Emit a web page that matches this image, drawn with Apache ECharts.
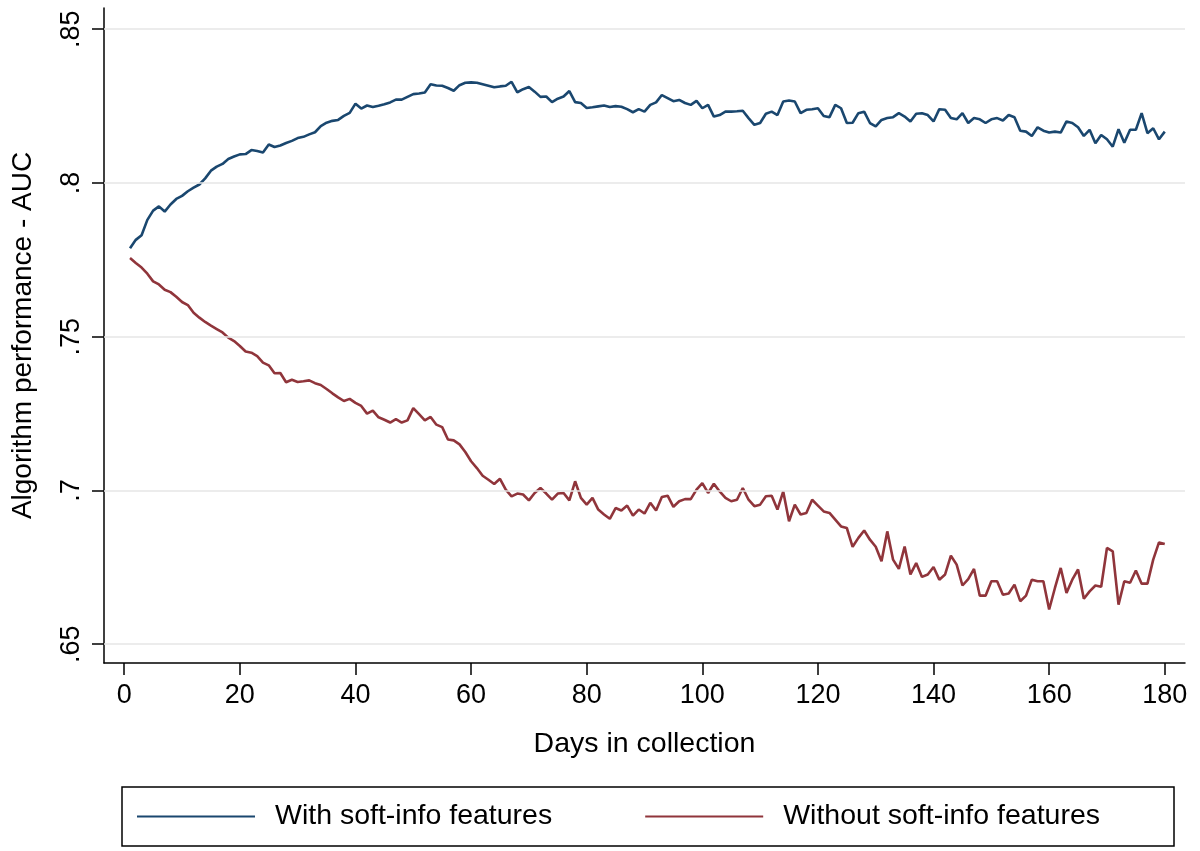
<!DOCTYPE html>
<html>
<head>
<meta charset="utf-8">
<script src="https://cdn.jsdelivr.net/npm/echarts@6/dist/echarts.min.js"></script>
<style>html,body{margin:0;padding:0;background:#fff;}#c{width:1200px;height:851px;}</style>
</head>
<body>
<div id="c"></div>
<script>
// Days 1..180 in collection
var days = [];
for (var d = 1; d <= 180; d++) days.push(d);

var withSoft = [
.7788,.7815,.7830,.7880,.7910,.7924,.7907,.7930,.7948,.7958,
.7973,.7985,.7995,.8015,.8040,.8053,.8062,.8078,.8086,.8093,
.8094,.8107,.8104,.8099,.8125,.8117,.8122,.8130,.8137,.8146,
.8150,.8158,.8165,.8185,.8196,.8202,.8205,.8218,.8228,.8258,
.8242,.8252,.8247,.8251,.8256,.8262,.8271,.8271,.8280,.8289,
.8291,.8294,.8321,.8317,.8316,.8309,.8300,.8318,.8326,.8327,
.8326,.8321,.8316,.8311,.8314,.8316,.8329,.8295,.8305,.8312,
.8297,.8280,.8281,.8263,.8274,.8281,.8299,.8263,.8260,.8244,
.8246,.8249,.8252,.8247,.8250,.8248,.8240,.8230,.8240,.8232,
.8254,.8262,.8286,.8276,.8266,.8270,.8260,.8254,.8267,.8243,
.8254,.8216,.8221,.8232,.8232,.8233,.8235,.8211,.8189,.8195,
.8225,.8232,.8221,.8265,.8268,.8265,.8227,.8238,.8240,.8243,
.8218,.8214,.8254,.8243,.8195,.8196,.8227,.8232,.8195,.8184,
.8205,.8211,.8214,.8227,.8216,.8200,.8225,.8227,.8221,.8200,
.8240,.8238,.8211,.8207,.8227,.8195,.8211,.8207,.8195,.8207,
.8211,.8203,.8221,.8214,.8170,.8167,.8153,.8181,.8170,.8164,
.8167,.8164,.8200,.8195,.8181,.8153,.8173,.8129,.8156,.8142,
.8118,.8175,.8131,.8173,.8173,.8227,.8162,.8178,.8142,.8167
];

var withoutSoft = [
.7756,.7740,.7725,.7705,.7680,.7670,.7653,.7645,.7630,.7613,
.7603,.7578,.7562,.7548,.7536,.7525,.7514,.7497,.7486,.7470,
.7452,.7448,.7437,.7416,.7407,.7381,.7382,.7352,.7360,.7353,
.7355,.7358,.7349,.7343,.7330,.7316,.7303,.7291,.7298,.7285,
.7275,.7250,.7260,.7238,.7230,.7221,.7232,.7221,.7228,.7268,
.7248,.7228,.7239,.7214,.7206,.7166,.7163,.7150,.7125,.7095,
.7073,.7048,.7035,.7021,.7038,.7003,.6981,.6990,.6987,.6968,
.6992,.7008,.6990,.6970,.6990,.6992,.6968,.7030,.6976,.6954,
.6976,.6938,.6922,.6908,.6943,.6935,.6951,.6918,.6938,.6925,
.6960,.6935,.6979,.6983,.6947,.6965,.6972,.6972,.7003,.7024,
.6992,.7022,.6997,.6976,.6965,.6970,.7008,.6970,.6949,.6954,
.6981,.6983,.6938,.6997,.6900,.6954,.6922,.6927,.6970,.6951,
.6932,.6927,.6905,.6883,.6878,.6817,.6846,.6870,.6840,.6817,
.6770,.6867,.6775,.6745,.6818,.6727,.6764,.6719,.6727,.6751,
.6710,.6727,.6788,.6759,.6691,.6712,.6745,.6658,.6658,.6705,
.6705,.6661,.6665,.6694,.6640,.6658,.6710,.6705,.6705,.6613,
.6683,.6748,.6667,.6710,.6743,.6648,.6672,.6691,.6687,.6813,
.6802,.6629,.6705,.6700,.6740,.6697,.6697,.6775,.6831,.6826
];

var xTicks = [0, 20, 40, 60, 80, 100, 120, 140, 160, 180];
var yTicks = [0.65, 0.70, 0.75, 0.80, 0.85];
var yTickLabels = ['.65', '.7', '.75', '.8', '.85'];
var seriesNames = ['With soft-info features', 'Without soft-info features'];

function pairs(vals) { return days.map(function (d, i) { return [d, vals[i]]; }); }

var FONT = 'Liberation Sans, Arial, Helvetica, sans-serif';
var chart = echarts.init(document.getElementById('c'), null, { renderer: 'canvas' });
chart.setOption({
  animation: false,
  backgroundColor: '#ffffff',
  grid: { left: 104, right: 15, top: 8, bottom: 188, containLabel: false },
  xAxis: {
    type: 'value', min: -3.5, max: 183.5,
    name: 'Days in collection', nameLocation: 'middle', nameGap: 67,
    nameTextStyle: { fontFamily: FONT, fontSize: 28.5, color: '#000' },
    axisLine: { show: true, onZero: false, lineStyle: { color: '#000', width: 1.5 } },
    axisTick: { show: true, length: 12, customValues: xTicks, lineStyle: { color: '#000', width: 1.5 } },
    axisLabel: { customValues: xTicks, margin: 19, fontFamily: FONT, fontSize: 27, color: '#000' },
    splitLine: { show: false }
  },
  yAxis: {
    type: 'value', min: 0.6439, max: 0.8569,
    name: 'Algorithm performance - AUC', nameLocation: 'middle', nameGap: 67,
    nameTextStyle: { fontFamily: FONT, fontSize: 28, color: '#000' },
    axisLine: { show: true, onZero: false, lineStyle: { color: '#000', width: 1.5 } },
    axisTick: { show: true, length: 12, customValues: yTicks, lineStyle: { color: '#000', width: 1.5 } },
    axisLabel: {
      customValues: yTicks, rotate: 90, margin: 19, fontFamily: FONT, fontSize: 27, color: '#000',
      formatter: function (v) {
        for (var i = 0; i < yTicks.length; i++) if (Math.abs(v - yTicks[i]) < 1e-6) return yTickLabels[i];
        return '';
      }
    },
    splitLine: { show: false }
  },
  legend: {
    data: seriesNames,
    left: 122, top: 787,
    orient: 'horizontal',
    padding: [15, 74, 15, 15],
    itemGap: 93,
    itemWidth: 118, itemHeight: 30,
    borderColor: '#000', borderWidth: 1.5,
    textStyle: { fontFamily: FONT, fontSize: 28.5, color: '#000', padding: [0, 0, 0, 15] },
    icon: 'path://M0,14 L118,14 L118,16 L0,16 Z'
  },
  series: [
    {
      name: '_grid', type: 'line', data: [], silent: true, z: 1,
      markLine: {
        silent: true, symbol: 'none', label: { show: false },
        lineStyle: { color: '#e6e6e6', width: 1.5, type: 'solid' },
        data: yTicks.map(function (v) { return { yAxis: v }; })
      }
    },
    {
      name: seriesNames[0], type: 'line', data: pairs(withSoft), symbol: 'none', z: 3,
      color: '#1a476f', lineStyle: { color: '#1a476f', width: 2.6 }
    },
    {
      name: seriesNames[1], type: 'line', data: pairs(withoutSoft), symbol: 'none', z: 3,
      color: '#90353b', lineStyle: { color: '#90353b', width: 2.6 }
    }
  ]
});
</script>
</body>
</html>
